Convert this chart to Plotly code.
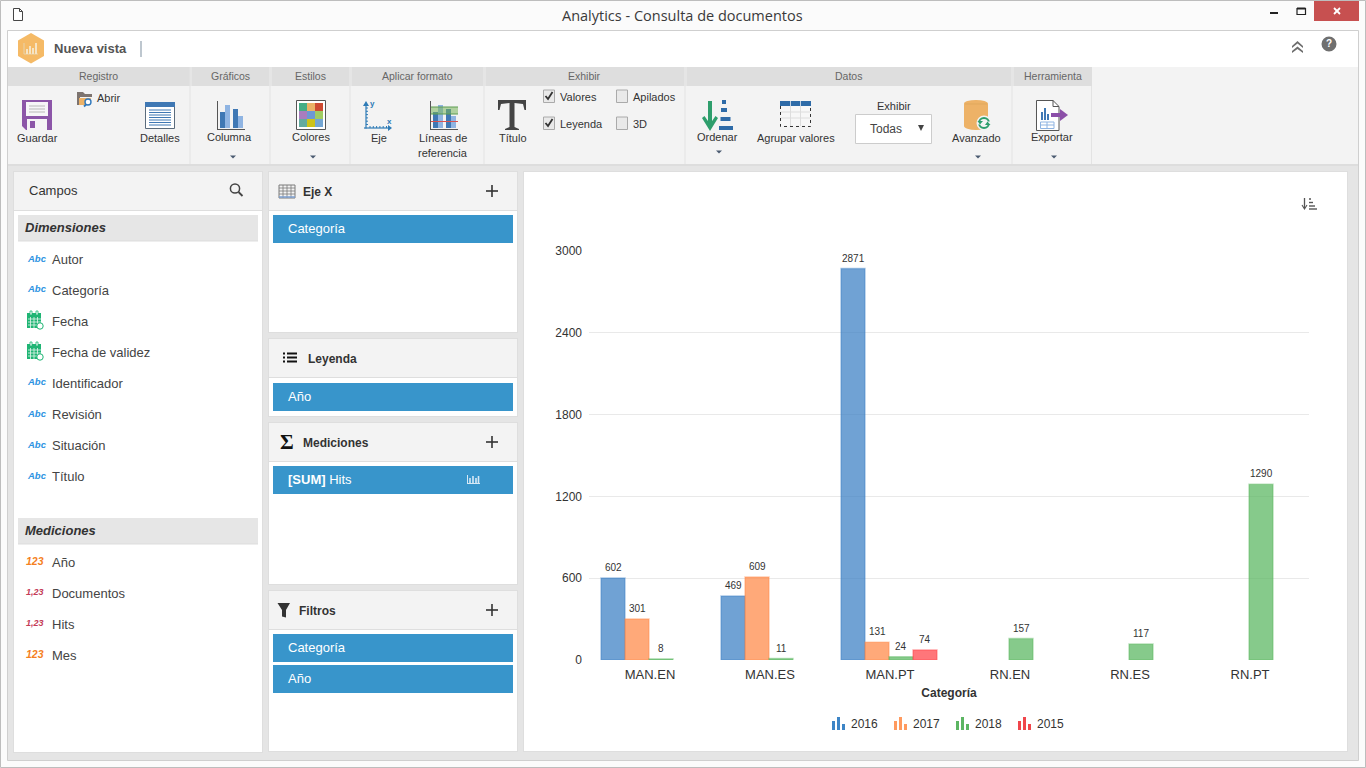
import plotly.graph_objects as go

# ---------- chart data ----------
categories = ["MAN.EN", "MAN.ES", "MAN.PT", "RN.EN", "RN.ES", "RN.PT"]
series_names = ["2016", "2017", "2018", "2015"]
values_2016 = [602, 469, 2871, None, None, None]
values_2017 = [301, 609, 131, None, None, None]
values_2018 = [8, 11, 24, 157, 117, 1290]
values_2015 = [None, None, 74, None, None, None]
y_ticks = [0, 600, 1200, 1800, 2400, 3000]
y_grid = [600, 1200, 1800, 2400]
bar_fill = ["rgba(62,129,197,0.74)", "rgba(255,139,74,0.74)", "rgba(92,184,98,0.74)", "rgba(255,70,75,0.74)"]
bar_edge = ["rgba(62,129,197,0.42)", "rgba(255,139,74,0.42)", "rgba(92,184,98,0.42)", "rgba(255,70,75,0.42)"]
legend_solid = ["#3D85C6", "#FF9A5E", "#5CB562", "#F0464B"]

# ---------- UI text ----------
dimension_fields = ["Autor", "Categoría", "Fecha", "Fecha de validez", "Identificador", "Revisión", "Situación", "Título"]
measure_fields = ["Año", "Documentos", "Hits", "Mes"]

W, H = 1366, 768
shapes, notes = [], []
SANS = "Liberation Sans"

def px(x): return x / W
def py(y): return 1 - y / H

def R(x0, y0, x1, y1, fill=None, line=None, lw=1):
    shapes.append(dict(type="rect", xref="paper", yref="paper", layer="below",
                       x0=px(x0), x1=px(x1), y0=py(y0), y1=py(y1),
                       fillcolor=fill or "rgba(0,0,0,0)",
                       line=dict(color=line or "rgba(0,0,0,0)", width=lw if line else 0)))

def L(x0, y0, x1, y1, color, w=1):
    shapes.append(dict(type="line", xref="paper", yref="paper", layer="below",
                       x0=px(x0), x1=px(x1), y0=py(y0), y1=py(y1), line=dict(color=color, width=w)))

def P(pts, fill=None, line=None, lw=1, close=True):
    d = "M" + " L".join(f"{px(a):.5f},{py(b):.5f}" for a, b in pts) + (" Z" if close else "")
    shapes.append(dict(type="path", xref="paper", yref="paper", layer="below", path=d,
                       fillcolor=fill or "rgba(0,0,0,0)",
                       line=dict(color=line or "rgba(0,0,0,0)", width=lw if line else 0)))

def C(cx, cy, r, fill=None, line=None, lw=1, ry=None):
    ry = ry if ry is not None else r
    shapes.append(dict(type="circle", xref="paper", yref="paper", layer="below",
                       x0=px(cx - r), x1=px(cx + r), y0=py(cy - ry), y1=py(cy + ry),
                       fillcolor=fill or "rgba(0,0,0,0)",
                       line=dict(color=line or "rgba(0,0,0,0)", width=lw if line else 0)))

def T(x, y, text, size=12, color="#333333", anchor="left", font=SANS):
    notes.append(dict(xref="paper", yref="paper", x=px(x), y=py(y), text=text, showarrow=False,
                      xanchor=anchor, yanchor="middle", align=anchor, borderpad=0, borderwidth=0,
                      font=dict(family=font, size=size, color=color)))

def caret(x, y):
    P([(x - 3, y - 1.5), (x + 3, y - 1.5), (x, y + 1.5)], fill="#4A5A70")

# ---------- window ----------
R(0.5, 0.5, 1365.5, 767.5, fill="#FBFBFB", line="#BDBDBD", lw=1)
R(7.5, 30.5, 1358.5, 760.5, fill="#E5E5E5", line="#CFCFCF", lw=1)
R(8, 31, 1358, 67, fill="#FFFFFF")
T(682.5, 15, "Analytics - Consulta de documentos", 14.5, "#3A3A3A", "center", "Open Sans")
P([(13.5, 8.5), (19.5, 8.5), (22.5, 11.5), (22.5, 20.5), (13.5, 20.5)], fill="#FFFFFF", line="#444444", lw=1)
P([(19.5, 8.5), (19.5, 11.5), (22.5, 11.5)], line="#444444", lw=1, close=False)
R(1270, 12, 1278, 14, fill="#222222")
R(1297, 8.5, 1305.5, 14.5, line="#222222", lw=1.2)
L(1297, 8.5, 1305.5, 8.5, "#222222", 2)
R(1314, 1, 1359, 21, fill="#C75050")
L(1334, 8, 1340, 14, "#FFFFFF", 1.8)
L(1340, 8, 1334, 14, "#FFFFFF", 1.8)

# ---------- top bar ----------
P([(31, 33), (44, 40.5), (44, 56), (31, 63.5), (18, 56), (18, 40.5)], fill="#F5BA66")
L(24, 54, 38, 54, "#E8D3AC", 1)
L(24, 43, 24, 54, "#E8D3AC", 1)
for bx, bt in [(27, 49), (30, 46), (33, 48), (36, 43)]:
    R(bx - 1, bt, bx + 1, 54, fill="#F6E4C4")
T(54, 48, "<b>Nueva vista</b>", 13, "#555555")
L(141, 41, 141, 57, "#A9B4BF", 1.5)
P([(1292, 46), (1297.5, 41), (1303, 46), (1303, 48), (1297.5, 43.5), (1292, 48)], fill="#6D6D6D")
P([(1292, 51), (1297.5, 46.5), (1303, 51), (1303, 53), (1297.5, 49), (1292, 53)], fill="#6D6D6D")
C(1329, 44, 7.5, fill="#6F6F6F")
T(1329, 44, "<b>?</b>", 10, "#FFFFFF", "center")

# ---------- ribbon ----------
R(8, 86, 1091, 164, fill="#F3F3F3")
R(1092, 67, 1358, 164, fill="#F3F3F3")
R(8, 164, 1358, 166, fill="#DDDDDD")
sections = [("Registro", 8, 189.5), ("Gráficos", 192, 269), ("Estilos", 272, 349), ("Aplicar formato", 352, 483),
            ("Exhibir", 486, 684), ("Datos", 687, 1011), ("Herramienta", 1014, 1092)]
for name, a, b in sections:
    R(a, 67, b, 86, fill="#DEDEDE")
    T((a + b) / 2 - 0.5, 76, name, 10.5, "#666666", "center")
for sx in [190, 270, 350, 484, 685, 1012, 1091.5]:
    L(sx, 86, sx, 164, "#E3E3E3", 1)

# Guardar
P([(22, 100), (52, 100), (52, 130), (26, 130), (22, 126)], fill="#8C55A8")
R(26, 102, 48, 116, fill="#F7F5F8")
for ly in [106, 109, 112]:
    L(29, ly, 45, ly, "#B9B9B9", 1)
R(27, 119, 47, 130, fill="#F5F3F6")
R(30, 121, 35, 128, fill="#8C55A8")
T(37, 138, "Guardar", 11, "#333333", "center")
# Abrir
P([(77, 92), (83, 92), (85, 94), (92, 94), (92, 97), (80, 97), (80, 105), (77, 105)], fill="#7D7470")
P([(79, 98), (91, 98), (90, 105), (79, 105)], fill="#EDB267")
C(88, 102, 3, fill="#FFFFFF", line="#2F78BD", lw=1.4)
L(86, 104.5, 84, 106.5, "#2F78BD", 1.8)
T(96.5, 98, "Abrir", 11, "#333333")
# Detalles
R(145.5, 102.5, 174.5, 128.5, fill="#FFFFFF", line="#5A6B7C", lw=1)
R(145, 102, 175, 107, fill="#3F78B4")
for ly in [110, 112.5, 115, 117.5, 120, 122.5, 125]:
    L(149, ly, 171, ly, "#3F78B4", 1)
T(160, 138, "Detalles", 11, "#333333", "center")
# Columna
L(217.5, 101, 217.5, 129, "#555555", 1)
L(217, 129.5, 245, 129.5, "#555555", 1)
R(220, 112, 225, 128, fill="#3F78B4")
R(225, 105, 230, 128, fill="#8FB4E2")
R(233, 109, 238, 128, fill="#3F78B4")
R(238, 116, 243, 128, fill="#8FB4E2")
T(229.5, 137, "Columna", 11, "#333333", "center")
caret(233, 157)
# Colores
R(296.5, 100.5, 325.5, 129.5, fill="#FFFFFF", line="#555555", lw=1)
swatches = [["#45AD85", "#EBB266", "#CE4A32"], ["#A97DBE", "#6D98D3", "#A0CC62"], ["#63AB9F", "#CDC31A", "#74A6D3"]]
for ri, row in enumerate(swatches):
    for ci, col in enumerate(row):
        R(299 + ci * 8, 103 + ri * 8, 307 + ci * 8, 111 + ri * 8, fill=col)
T(311, 137, "Colores", 11, "#333333", "center")
caret(313, 157)
# Eje
AX = "#2E7BB6"
L(366, 104, 366, 128.5, AX, 1.2)
L(364, 128, 390, 128, AX, 1.2)
P([(363, 106), (369, 106), (366, 101)], fill=AX)
P([(388, 125), (392, 128), (388, 131)], fill=AX)
for i in range(6):
    L(366, 108 + i * 3.3, 368, 108 + i * 3.3, AX, 1)
    L(370 + i * 3.3, 126, 370 + i * 3.3, 128, AX, 1)
T(372, 103, "<b>y</b>", 8, AX, "center")
T(389, 121, "<b>x</b>", 8, AX, "center")
T(378.5, 138, "Eje", 11, "#333333", "center")
# Lineas de referencia
L(430.5, 101, 430.5, 129, "#555555", 1)
L(430, 129.5, 458, 129.5, "#555555", 1)
R(433, 112, 438, 128, fill="#3F78B4")
R(438, 105, 443, 128, fill="#8FB4E2")
R(446, 109, 451, 128, fill="#3F78B4")
R(451, 116, 456, 128, fill="#8FB4E2")
R(431, 107, 458, 114, fill="rgba(120,180,90,0.55)")
L(431, 107, 458, 107, "#5C9C52", 1)
L(431, 114, 458, 114, "#5C9C52", 1)
L(431, 121.5, 458, 121.5, "#D9534F", 1)
T(443.5, 138, "Líneas de", 11, "#333333", "center")
T(443.5, 153, "referencia", 11, "#333333", "center")
# Titulo: serif T icon
P([(498, 100), (526, 100), (526, 110), (524.5, 110), (523, 104), (514.5, 103), (514.5, 127), (519, 129), (519, 130),
   (505, 130), (505, 129), (509.5, 127), (509.5, 103), (501, 104), (499.5, 110), (498, 110)], fill="#444444")
T(512.5, 138, "Título", 11, "#333333", "center")

# checkboxes
def checkbox(x, y, checked, label):
    R(x + 0.5, y - 6, x + 11.5, y + 6.5, fill="#E9E9E9", line="#AAAAAA", lw=1)
    if checked:
        P([(x + 2.5, y), (x + 5, y + 3), (x + 9.5, y - 4)], line="#333333", lw=1.8, close=False)
    T(x + 16.5, y + 1, label, 11, "#333333")
checkbox(543, 96, True, "Valores")
checkbox(616, 96, False, "Apilados")
checkbox(543, 123, True, "Leyenda")
checkbox(616, 123, False, "3D")

# Ordenar
G = "#2E9E6C"
L(710, 101, 710, 128, G, 4)
P([(702, 118), (704.5, 116), (710, 124), (715.5, 116), (718, 118), (710, 131)], fill=G)
for ox, oy, oh in [(724, 102, 2), (724, 110, 3), (725.5, 119, 5), (726, 128, 7)]:
    R(ox - oh, oy - 2, ox + oh, oy + 2, fill="#2E6BA8")
T(717, 137, "Ordenar", 11, "#333333", "center")
caret(719, 152)
# Agrupar valores
R(780.5, 105, 810.5, 126.5, fill="#F7F7F7")
for gx in [790.5, 800.5]:
    L(gx, 106, gx, 126, "#DDDDDD", 1)
for gy in [112, 118]:
    L(781, gy, 810, gy, "#DDDDDD", 1)
shapes.append(dict(type="path", xref="paper", yref="paper", layer="below",
                   path=f"M{px(780.5):.5f},{py(106):.5f} L{px(780.5):.5f},{py(126.5):.5f} L{px(810.5):.5f},{py(126.5):.5f} L{px(810.5):.5f},{py(106):.5f}",
                   line=dict(color="#333333", width=1, dash="dot")))
R(780, 101, 811, 106, fill="#2E6BA8")
L(790.5, 101, 790.5, 106, "#FFFFFF", 0.7)
L(800.5, 101, 800.5, 106, "#FFFFFF", 0.7)
T(796, 138, "Agrupar valores", 11, "#333333", "center")
# Exhibir select
T(893.5, 106, "Exhibir", 11, "#333333", "center")
R(855.5, 114.5, 931.5, 143.5, fill="#FFFFFF", line="#CCCCCC", lw=1)
T(886, 128.5, "Todas", 12, "#444444", "center")
P([(918, 125), (924, 125), (921, 131)], fill="#444444")
# Avanzado
C(976, 103.5, 12, fill="#EDB267", ry=3.5)
R(964, 103.5, 988, 126, fill="#EDB267")
C(976, 126, 12, fill="#EDB267", ry=4)
L(965, 104, 987, 104, "#D9A258", 0.6)
C(984, 123, 7.5, fill="#F3F3F3")
C(984, 123, 5, line="#2E9E6C", lw=2)
R(977, 121.5, 991, 124.5, fill="#F3F3F3")
P([(977.5, 121), (983, 121), (980, 124.5)], fill="#2E9E6C")
P([(985, 125), (990.5, 125), (987.5, 121.5)], fill="#2E9E6C")
T(976, 138, "Avanzado", 11, "#333333", "center")
caret(978, 157)
# Exportar
P([(1036.5, 100.5), (1053, 100.5), (1059, 106.5), (1059, 130.5), (1036.5, 130.5)], fill="#FFFFFF", line="#555555", lw=1)
L(1053, 100.5, 1053, 106.5, "#555555", 1)
L(1053, 106.5, 1059, 106.5, "#555555", 1)
R(1041, 112, 1043, 120, fill="#3F78B4")
R(1044, 108, 1046, 120, fill="#3F78B4")
R(1047, 114, 1049, 120, fill="#3F78B4")
R(1040.5, 122, 1054, 128.5, line="#8FB4E2", lw=1)
L(1047, 122, 1047, 128.5, "#8FB4E2", 1)
L(1040.5, 125, 1054, 125, "#8FB4E2", 1)
L(1051, 115, 1061, 115, "#8B4FA8", 4)
P([(1060, 109), (1068, 115), (1060, 121)], fill="#8B4FA8")
T(1052, 137, "Exportar", 11, "#333333", "center")
caret(1054, 157)

# ---------- panels ----------
def panel(x0, y0, x1, y1, header_h=None):
    R(x0 - 1, y0 - 1, x1 + 1, y1 + 1, fill="#DEDEDE")
    R(x0, y0, x1, y1, fill="#FFFFFF")
    if header_h:
        R(x0, y0, x1, y0 + header_h, fill="#F3F3F3")
        L(x0, y0 + header_h + 0.5, x1, y0 + header_h + 0.5, "#DEDEDE", 1)

panel(14, 172, 262, 752, 38)
T(29, 190.5, "Campos", 13, "#333333")
C(235, 188.5, 4.6, line="#444444", lw=1.5)
L(238.5, 192, 242.5, 196, "#444444", 1.8)

def field_bar(y0, label):
    R(18, y0, 258, y0 + 26, fill="#E6E6E6")
    L(18, y0 + 26, 258, y0 + 26, "#DDDDDD", 1)
    T(25, y0 + 12.5, f"<b><i>{label}</i></b>", 13, "#333333")
field_bar(215, "Dimensiones")
field_bar(518, "Mediciones")

def calendar(x, y):
    GC = "#1FB574"
    R(x, y + 2, x + 14, y + 17, fill=GC)
    for i in range(1, 4):
        L(x + 1, y + 5 + i * 3, x + 14, y + 5 + i * 3, "#E4F5EC", 0.8)
        L(x + i * 3.5, y + 6, x + i * 3.5, y + 17, "#E4F5EC", 0.8)
    R(x + 3, y, x + 5, y + 4, fill="#FFFFFF", line=GC, lw=0.8)
    R(x + 9, y, x + 11, y + 4, fill="#FFFFFF", line=GC, lw=0.8)
    C(x + 13, y + 15, 3.2, fill="#FFFFFF", line=GC, lw=1)

field_rows_1 = [259, 290, 321, 352, 383, 414, 445, 476]
for fy, name in zip(field_rows_1, dimension_fields):
    T(52, fy + 0.5, name, 13, "#444444")
    if name.startswith("Fecha"):
        calendar(27, fy - 10)
    else:
        T(27, fy - 1, "<b><i>Abc</i></b>", 9.5, "#2D93E2")

field_rows_2 = [562, 593, 624, 655]
for fy, name in zip(field_rows_2, measure_fields):
    T(52, fy + 0.5, name, 13, "#444444")
    if name in ("Año", "Mes"):
        T(25.5, fy - 1, "<b><i>123</i></b>", 10.5, "#F57F22")
    else:
        T(25.5, fy - 1, "<b><i>1,23</i></b>", 9, "#C43B58")

def chip(y0, label):
    R(273, y0, 513, y0 + 28, fill="#3895CB")
    T(288, y0 + 13.5, label, 13, "#FFFFFF")

def plus(x, y):
    L(x - 6, y, x + 6, y, "#333333", 1.6)
    L(x, y - 6, x, y + 6, "#333333", 1.6)

panel(269, 172, 517, 332, 38)
R(279, 185, 295, 198, fill="#F3F3F3", line="#7A7A7A", lw=1)
for gx in [283, 287, 291]:
    L(gx, 185, gx, 198, "#7A7A7A", 0.8)
for gy in [188, 191, 194]:
    L(279, gy, 295, gy, "#7A7A7A", 0.8)
L(279, 197, 295, 197, "#7C9FD0", 1.5)
T(303, 191.5, "<b>Eje X</b>", 12, "#333333")
plus(492, 191)
chip(215, "Categoría")

panel(269, 339, 517, 416, 38)
for ly in [353.5, 357.5, 361.5]:
    R(283, ly - 1, 285, ly + 1, fill="#111111")
    R(287, ly - 1, 297, ly + 1, fill="#111111")
T(308, 358.5, "<b>Leyenda</b>", 12, "#333333")
chip(383, "Año")

panel(269, 423, 517, 584, 38)
T(287, 441.5, "<b>Σ</b>", 21, "#111111", "center", "Liberation Serif")
T(303, 442.5, "<b>Mediciones</b>", 12, "#333333")
plus(492, 442)
chip(466, "<b>[SUM]</b> Hits")
L(467.5, 475, 467.5, 484, "#D6E8F5", 1)
L(467, 483.5, 480, 483.5, "#D6E8F5", 1)
for bx, bt in [(470, 478), (473, 476), (476, 478), (478.5, 476)]:
    R(bx - 0.8, bt, bx + 0.8, 483, fill="#D6E8F5")

panel(269, 591, 517, 751, 38)
P([(277.5, 603), (290, 603), (286, 610), (286, 617.5), (282, 616.5), (282, 610)], fill="#333333")
T(299, 610.5, "<b>Filtros</b>", 12, "#333333")
plus(492, 610)
chip(634, "Categoría")
chip(665, "Año")

panel(524, 172, 1347, 751)
# sort icon above the chart
L(1304.5, 198, 1304.5, 208, "#555555", 1.3)
P([(1302, 205), (1304.5, 209), (1307, 205)], line="#555555", lw=1.1, close=False)
for sy, sw in [(199, 2), (202.5, 4), (206, 6), (209, 8)]:
    L(1309, sy, 1309 + sw, sy, "#555555", 1.4)

# ---------- legend of the chart ----------
legend_icon_x = [832, 894, 956, 1018]
for lx, name, col in zip(legend_icon_x, series_names, legend_solid):
    R(lx, 721, lx + 3, 730, fill=col)
    R(lx + 5, 717, lx + 8, 730, fill=col)
    R(lx + 10, 724, lx + 13, 730, fill=col)
    T(lx + 19, 723.5, name, 12, "#333333")

# ---------- chart ----------
fig = go.Figure()
all_values = [values_2016, values_2017, values_2018, values_2015]
for j, (name, vals, fill, edge) in enumerate(zip(series_names, all_values, bar_fill, bar_edge)):
    fig.add_trace(go.Bar(name=name, x=categories, y=vals,
                         marker=dict(color=fill, line=dict(color=edge, width=1.5))))
    for i, v in enumerate(vals):
        if v is not None:
            notes.append(dict(xref="x", yref="y", x=i + (j - 1.5) * 0.2, y=v, text=str(v), showarrow=False,
                              yshift=10.5, xanchor="center", yanchor="middle",
                              font=dict(family=SANS, size=10, color="#333333")))

fig.update_layout(
    width=W, height=H, autosize=False,
    margin=dict(l=0, r=0, t=0, b=0, pad=0, autoexpand=False),
    paper_bgcolor="#FBFBFB", plot_bgcolor="rgba(0,0,0,0)",
    barmode="group", bargap=0.2, bargroupgap=0,
    showlegend=False, shapes=shapes, annotations=notes,
    font=dict(family=SANS, size=12, color="#333333"),
    xaxis=dict(domain=[589 / W, 1309 / W], range=[-0.5, 5.5], type="category", automargin=False,
               categoryorder="array", categoryarray=categories,
               showgrid=False, zeroline=False, showline=False, ticks="", ticklabelshift=1, ticklabelstandoff=5,
               tickfont=dict(family=SANS, size=13, color="#333333"),
               title=dict(text="<b>Categoría</b>", standoff=7,
                          font=dict(family=SANS, size=12, color="#333333"))),
    yaxis=dict(domain=[1 - 660 / H, 1 - 251 / H], range=[0, 3000], automargin=False,
               tickmode="array", tickvals=y_ticks, ticktext=[str(v) for v in y_ticks],
               showgrid=False, zeroline=False, showline=False, ticks="", ticklabelstandoff=6,
               tickfont=dict(family=SANS, size=12, color="#333333"),
               minor=dict(tickmode="array", tickvals=y_grid, showgrid=True,
                          gridcolor="#E9E9E9", gridwidth=1, ticks="")),
)

fig.write_html("out.html", config=dict(displayModeBar=False, responsive=False),
               post_script="document.body.style.margin='0';document.body.style.overflow='hidden';")
